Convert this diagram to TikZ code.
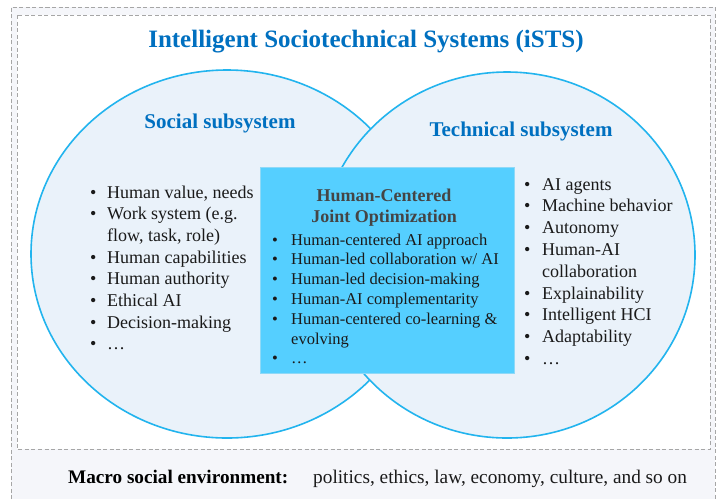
\documentclass[tikz,border=0pt]{standalone}
\usepackage{fontspec}
\setmainfont{Liberation Serif}
\usetikzlibrary{shapes.geometric}
\definecolor{istsblue}{HTML}{0070C0}
\definecolor{ringblue}{HTML}{22B4EE}
\definecolor{ringfill}{HTML}{EAF2FA}
\definecolor{boxfill}{HTML}{55CFFF}
\definecolor{boxline}{HTML}{8FD9F7}
\definecolor{envfill}{HTML}{F5F6FA}
\definecolor{dashgray}{HTML}{A6A6A6}
\definecolor{titlegray}{HTML}{454545}
\definecolor{bodyblack}{HTML}{1A1A1A}
\newcommand{\itembul}[1]{\makebox[#1][l]{\textbullet}}
\begin{document}
\begin{tikzpicture}[x=1pt,y=-1pt,
  ring/.style={ellipse, draw=ringblue, fill=ringfill, line width=1.6pt, inner sep=0pt},
  frame/.style={draw=dashgray, dash pattern=on 4pt off 2.5pt, line width=0.8pt},
  bigtitle/.style={font=\bfseries\fontsize{25}{30}\selectfont, text=istsblue, inner sep=0pt, anchor=base},
  subtitle/.style={font=\bfseries\fontsize{21}{25}\selectfont, text=istsblue, inner sep=0pt, anchor=base},
  jointhead/.style={font=\bfseries\fontsize{18}{21}\selectfont, text=titlegray, inner sep=0pt, anchor=base},
  listtext/.style={inner sep=0pt, anchor=base west, text=bodyblack}]
\useasboundingbox (0,0) rectangle (722,499);
\fill[white] (0,0) rectangle (722,499);
\fill[envfill] (11,7) rectangle (715,499);
\draw[frame] (11,499) -- (11,7) -- (715,7) -- (715,499);
\fill[white] (17,15) rectangle (710,449);
\draw[frame] (17,15) rectangle (710,449);

\node[bigtitle] (title) at (366,47) {Intelligent Sociotechnical Systems (iSTS)};

\node[ring, minimum width=392pt, minimum height=368pt] (social) at (227,254) {};
\node[ring, minimum width=376pt, minimum height=366pt] (technical) at (507,255) {};

\node[subtitle] (soctitle) at (220,128) {Social subsystem};
\node[subtitle] (techtitle) at (521,136) {Technical subsystem};

\node[listtext] (soclist) at (90,198) {\fontsize{18}{21.7}\selectfont
\begin{tabular}[t]{@{}l@{}l@{}}
\itembul{17pt} & Human value, needs\\
\itembul{17pt} & Work system (e.g.\\
 & flow, task, role)\\
\itembul{17pt} & Human capabilities\\
\itembul{17pt} & Human authority\\
\itembul{17pt} & Ethical AI\\
\itembul{17pt} & Decision-making\\
\itembul{17pt} & …
\end{tabular}};

\node[listtext] (techlist) at (524,190) {\fontsize{18}{21.8}\selectfont
\begin{tabular}[t]{@{}l@{}l@{}}
\itembul{18pt} & AI agents\\
\itembul{18pt} & Machine behavior\\
\itembul{18pt} & Autonomy\\
\itembul{18pt} & Human-AI\\
 & collaboration\\
\itembul{18pt} & Explainability\\
\itembul{18pt} & Intelligent HCI\\
\itembul{18pt} & Adaptability\\
\itembul{18pt} & …
\end{tabular}};

\node[draw=boxline, fill=boxfill, line width=0.8pt, minimum width=254pt, minimum height=206pt, inner sep=0pt] (joint) at (387,270) {};
\node[jointhead] (jointtitle1) at (384,201) {Human-Centered};
\node[jointhead] (jointtitle2) at (384,222) {Joint Optimization};
\node[listtext] (jointlist) at (272,245) {\fontsize{16.5}{19.8}\selectfont
\begin{tabular}[t]{@{}l@{}l@{}}
\itembul{19pt} & Human-centered AI approach\\
\itembul{19pt} & Human-led collaboration w/ AI\\
\itembul{19pt} & Human-led decision-making\\
\itembul{19pt} & Human-AI complementarity\\
\itembul{19pt} & Human-centered co-learning \&\\
 & evolving\\
\itembul{19pt} & …
\end{tabular}};

\node[inner sep=0pt, anchor=base west, font=\bfseries\fontsize{19.2}{23}\selectfont, text=black] (macro) at (68,483) {Macro social environment:};
\node[inner sep=0pt, anchor=base west, font=\fontsize{19.3}{23}\selectfont, text=bodyblack] (macrotext) at (313,483) {politics, ethics, law, economy, culture, and so on};
\end{tikzpicture}
\end{document}
